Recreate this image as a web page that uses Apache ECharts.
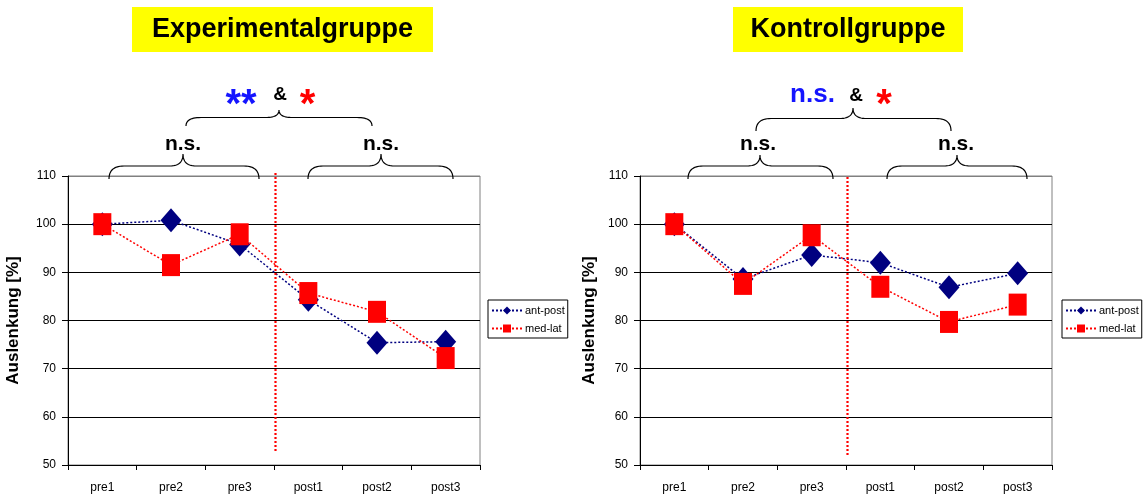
<!DOCTYPE html>
<html>
<head>
<meta charset="utf-8">
<script src="https://cdn.jsdelivr.net/npm/echarts@6/dist/echarts.min.js"></script>
<style>html,body{margin:0;padding:0;background:#fff}#c{width:1147px;height:499px}</style>
</head>
<body>
<div id="c"></div>
<script>
const categories = ['pre1', 'pre2', 'pre3', 'post1', 'post2', 'post3'];
const expAntPost = [100, 100.8, 95.8, 84.3, 75.4, 75.6];
const expMedLat = [100, 91.5, 97.9, 85.7, 81.8, 72.2];
const konAntPost = [100, 88.6, 93.6, 92.0, 86.9, 89.8];
const konMedLat = [100, 87.6, 97.7, 87.0, 79.7, 83.3];
const yTicks = {min: 50, max: 110, interval: 10};
const titles = ['Experimentalgruppe', 'Kontrollgruppe'];
const yName = 'Auslenkung [%]';

const FONT = 'Liberation Sans, Arial, sans-serif';
const NAVY = '#000080', RED = '#FF0000';
const chart = echarts.init(document.getElementById('c'), null, {renderer: 'canvas'});

function xAxis(gi) {
  return {
    type: 'category', gridIndex: gi, data: categories, boundaryGap: true,
    axisLine: {lineStyle: {color: '#000', width: 1}},
    axisTick: {show: true, length: 5, lineStyle: {color: '#000'}},
    axisLabel: {color: '#000', fontFamily: FONT, fontSize: 12, margin: 17},
    splitLine: {show: false}
  };
}
function yAxis(gi, gap) {
  return {
    type: 'value', gridIndex: gi, min: yTicks.min, max: yTicks.max, interval: yTicks.interval,
    name: yName, nameLocation: 'middle', nameRotate: 90, nameGap: gap,
    nameTextStyle: {color: '#000', fontFamily: FONT, fontSize: 17, fontWeight: 'bold'},
    axisLine: {show: true, lineStyle: {color: '#000', width: 1}},
    axisTick: {show: true, length: 6, lineStyle: {color: '#000'}},
    axisLabel: {color: '#000', fontFamily: FONT, fontSize: 12, margin: 12},
    splitLine: {show: true, lineStyle: {color: ['#000', '#000', '#000', '#000', '#000', '#000', '#808080'], width: 1}}
  };
}
function series(name, data, gi) {
  const isAnt = name === 'ant-post';
  return {
    name, type: 'line', xAxisIndex: gi, yAxisIndex: gi, data,
    symbol: isAnt ? 'diamond' : 'rect',
    symbolSize: isAnt ? [21, 24] : [18, 22],
    itemStyle: {color: isAnt ? NAVY : RED},
    lineStyle: {color: isAnt ? NAVY : RED, width: 1.5, type: [2, 2]},
    z: isAnt ? 2 : 3, animation: false
  };
}
function legend(left) {
  return {
    left, top: 300, orient: 'vertical', data: ['ant-post', 'med-lat'],
    backgroundColor: '#fff', borderColor: '#000', borderWidth: 1, borderRadius: 0,
    padding: [5, 3, 4, 3], itemGap: 7, itemWidth: 30, itemHeight: 10,
    textStyle: {color: '#000', fontFamily: FONT, fontSize: 11, padding: [0, 0, 0, -2]}
  };
}
// quadratic curve sampling for the curly braces
function quad(p0, c, p1, n) {
  const pts = [];
  for (let i = 0; i <= n; i++) {
    const t = i / n;
    pts.push([(1-t)*(1-t)*p0[0] + 2*(1-t)*t*c[0] + t*t*p1[0],
              (1-t)*(1-t)*p0[1] + 2*(1-t)*t*c[1] + t*t*p1[1]]);
  }
  return pts;
}
function brace(x0, x1, xp, yTop, yMid, yEnd) {
  const r = 15, rp = 13, n = 14;
  const pts = [
    ...quad([x0, yEnd], [x0, yMid], [x0 + r, yMid], n),
    ...quad([xp - rp, yMid], [xp, yMid], [xp, yTop], n),
    ...quad([xp, yTop], [xp, yMid], [xp + rp, yMid], n),
    ...quad([x1 - r, yMid], [x1, yMid], [x1, yEnd], n)
  ];
  return {type: 'polyline', silent: true, shape: {points: pts},
    style: {fill: null, stroke: '#000', lineWidth: 1.2}};
}
function txt(text, x, y, size, color) {
  return {type: 'text', x, y, silent: true,
    style: {text, fill: color, font: `bold ${size}px ${FONT}`, align: 'center', verticalAlign: 'middle'}};
}
function titleBox(text, x0, x1) {
  return [
    {type: 'rect', shape: {x: x0, y: 7, width: x1 - x0, height: 45}, style: {fill: '#FFFF00'}, silent: true},
    txt(text, (x0 + x1) / 2, 30, 27, '#000')
  ];
}
function vline(x, y0, y1) {
  return {type: 'line', shape: {x1: x, y1: y0, x2: x, y2: y1}, silent: true, z: 10,
    style: {stroke: RED, lineWidth: 2.2, lineDash: [2, 2]}};
}

chart.setOption({
  animation: false,
  backgroundColor: '#fff',
  grid: [
    {left: 68, top: 176, width: 412, height: 289, show: true, borderColor: '#808080', borderWidth: 1},
    {left: 640, top: 176, width: 412, height: 289, show: true, borderColor: '#808080', borderWidth: 1}
  ],
  xAxis: [xAxis(0), xAxis(1)],
  yAxis: [yAxis(0, 46), yAxis(1, 42)],
  legend: [legend(488), legend(1062)],
  series: [
    series('ant-post', expAntPost, 0),
    series('med-lat', expMedLat, 0),
    series('ant-post', konAntPost, 1),
    series('med-lat', konMedLat, 1)
  ]
});

// dividing line between pre3 and post1 (computed from the category axis)
function divider(gi) {
  const a = chart.convertToPixel({xAxisIndex: gi}, 'pre3');
  const b = chart.convertToPixel({xAxisIndex: gi}, 'post1');
  return (a + b) / 2 + 1.5;
}

chart.setOption({
  graphic: [
    ...titleBox(titles[0], 132, 433),
    ...titleBox(titles[1], 733, 963),
    txt('**', 241, 106, 40, '#1515FF'),
    txt('&', 280, 95, 19, '#000'),
    txt('*', 307.5, 106, 40, RED),
    txt('n.s.', 812.5, 95, 26, '#1515FF'),
    txt('&', 856, 96, 19, '#000'),
    txt('*', 884, 106, 40, RED),
    txt('n.s.', 183, 144, 21, '#000'),
    txt('n.s.', 381, 144, 21, '#000'),
    txt('n.s.', 758, 144, 21, '#000'),
    txt('n.s.', 956, 144, 21, '#000'),
    brace(186, 372, 279, 110, 117.5, 126),
    brace(109, 259, 183, 154, 166, 179),
    brace(308, 453, 381, 154, 166, 179),
    brace(756, 951, 853, 108, 118.5, 131),
    brace(688, 833, 760, 155, 166, 179),
    brace(887, 1027, 957, 155, 166, 179),
    vline(divider(0), 173, 453),
    vline(divider(1), 177, 457)
  ]
});
</script>
</body>
</html>
